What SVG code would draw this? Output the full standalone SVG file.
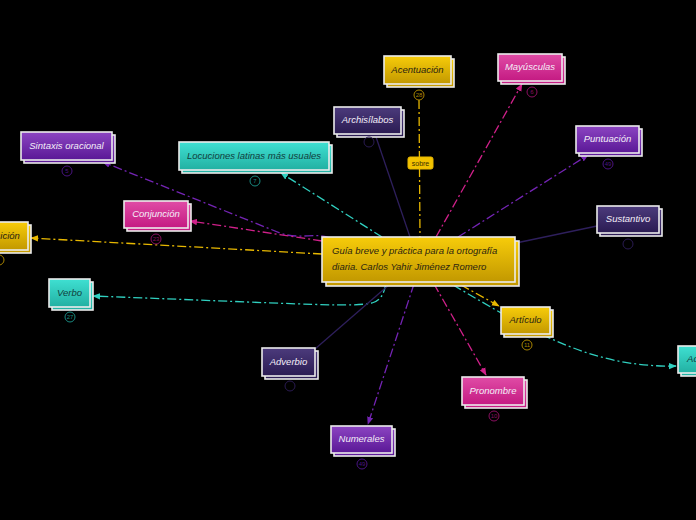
<svg xmlns="http://www.w3.org/2000/svg" width="696" height="520" viewBox="0 0 696 520">
<defs>
<linearGradient id="gY" x1="0" y1="0" x2="0" y2="1"><stop offset="0" stop-color="#f7cc0a"/><stop offset="1" stop-color="#c29800"/></linearGradient>
<linearGradient id="gP" x1="0" y1="0" x2="0" y2="1"><stop offset="0" stop-color="#e04ca6"/><stop offset="1" stop-color="#c41a82"/></linearGradient>
<linearGradient id="gV" x1="0" y1="0" x2="0" y2="1"><stop offset="0" stop-color="#8c45c2"/><stop offset="1" stop-color="#5a1896"/></linearGradient>
<linearGradient id="gD" x1="0" y1="0" x2="0" y2="1"><stop offset="0" stop-color="#4c3b7c"/><stop offset="1" stop-color="#2a1b52"/></linearGradient>
<linearGradient id="gT" x1="0" y1="0" x2="0" y2="1"><stop offset="0" stop-color="#3fe0d2"/><stop offset="1" stop-color="#22b0a2"/></linearGradient>
<marker id="aY" viewBox="0 0 10 10" refX="9" refY="5" markerWidth="6" markerHeight="6" orient="auto"><path d="M0,1 L10,5 L0,9 z" fill="#e8b800"/></marker>
<marker id="aP" viewBox="0 0 10 10" refX="9" refY="5" markerWidth="6" markerHeight="6" orient="auto"><path d="M0,1 L10,5 L0,9 z" fill="#d0208a"/></marker>
<marker id="aV" viewBox="0 0 10 10" refX="9" refY="5" markerWidth="6" markerHeight="6" orient="auto"><path d="M0,1 L10,5 L0,9 z" fill="#7424b4"/></marker>
<marker id="aT" viewBox="0 0 10 10" refX="9" refY="5" markerWidth="6" markerHeight="6" orient="auto"><path d="M0,1 L10,5 L0,9 z" fill="#30d0c0"/></marker>
</defs>
<style>
.box{stroke:#ececec;stroke-width:1.6}
.y{fill:url(#gY)} .p{fill:url(#gP)} .v{fill:url(#gV)} .d{fill:url(#gD)} .t{fill:url(#gT)}
.lbl{font-family:"Liberation Sans","DejaVu Sans",sans-serif;font-style:italic;font-size:9.5px;text-anchor:middle}
.dk{fill:#2a2410} .wh{fill:#f4eef8} .tk{fill:#10403c}
.bd{fill:none;stroke-width:1}
.bt{font-family:"Liberation Sans",sans-serif;font-size:6px;text-anchor:middle}
.c{fill:none;stroke-width:1.3;stroke-dasharray:9,3,2,3}
.cy{stroke:#e8b800} .cp{stroke:#d0208a} .cv{stroke:#7424b4} .ct{stroke:#30d0c0} .cd{stroke:#2e1f5c;stroke-dasharray:none}
</style>
<rect width="696" height="520" fill="#000"/>
<g id="connectors">
<path class="c cy" d="M419,100 L420,237"/>
<path class="c cp" d="M436,237 L522,84" marker-end="url(#aP)"/>
<path class="c cd" d="M375,134 L410,237"/>
<path class="c cv" d="M330,238 C315,232 300,240 280,233 L103,162" marker-end="url(#aV)"/>
<path class="c ct" d="M382,237 L281,173" marker-end="url(#aT)"/>
<path class="c cp" d="M322,241 L190,221" marker-end="url(#aP)"/>
<path class="c cy" d="M322,254 L31,238" marker-end="url(#aY)"/>
<path class="c ct" d="M386,284 C384,292 382,300 372,303 C350,307 330,305 93,296" marker-end="url(#aT)"/>
<path class="c cd" d="M315,349 L390,284"/>
<path class="c cv" d="M414,284 L368,424" marker-end="url(#aV)"/>
<path class="c cp" d="M434,284 L486,375" marker-end="url(#aP)"/>
<path class="c cy" d="M461,285 L499,306" marker-end="url(#aY)"/>
<path class="c ct" d="M453,285 C530,330 590,368 676,366" marker-end="url(#aT)"/>
<path class="c cv" d="M458,237 L588,155" marker-end="url(#aV)"/>
<path class="c cd" d="M516,243 L597,226"/>
<g id="label-sobre">
<rect x="408" y="157" width="25" height="12" rx="2" fill="#f2c200" stroke="#e8b800"/>
<text x="420.5" y="166" style="font-family:'Liberation Sans',sans-serif;font-size:7px;text-anchor:middle" fill="#3a2e00">sobre</text>
</g>
</g>
<g id="central">
<rect class="box y" x="326" y="241" width="193" height="45"/>
<rect class="box y" x="322" y="237" width="193" height="45"/>
<text class="lbl dk" x="332" y="254" style="text-anchor:start">Guía breve y práctica para la ortografía</text>
<text class="lbl dk" x="332" y="270" style="text-anchor:start">diaria. Carlos Yahir Jiménez Romero</text>
</g>
<g id="acentuacion">
<rect class="box y" x="387" y="59" width="67" height="28"/>
<rect class="box y" x="384" y="56" width="67" height="28"/>
<text class="lbl dk" x="417.5" y="73">Acentuación</text>
<circle class="bd" cx="419" cy="95" r="5" stroke="#a88400"/><text class="bt" x="419" y="97" fill="#a88400">28</text>
</g>
<g id="mayusculas">
<rect class="box p" x="501" y="57" width="64" height="27"/>
<rect class="box p" x="498" y="54" width="64" height="27"/>
<text class="lbl wh" x="530" y="70">Mayúsculas</text>
<circle class="bd" cx="532" cy="92" r="5" stroke="#8a1060"/><text class="bt" x="532" y="94" fill="#8a1060">6</text>
</g>
<g id="archisilabos">
<rect class="box d" x="337" y="110" width="67" height="27"/>
<rect class="box d" x="334" y="107" width="67" height="27"/>
<text class="lbl wh" x="367.5" y="123">Archisílabos</text>
<circle class="bd" cx="369" cy="142" r="5" stroke="#2a1b52"/>
</g>
<g id="sintaxis">
<rect class="box v" x="24" y="135" width="91" height="28"/>
<rect class="box v" x="21" y="132" width="91" height="28"/>
<text class="lbl wh" x="66.5" y="149">Sintaxis oracional</text>
<circle class="bd" cx="67" cy="171" r="5" stroke="#4a1480"/><text class="bt" x="67" y="173" fill="#4a1480">5</text>
</g>
<g id="locuciones">
<rect class="box t" x="182" y="145" width="150" height="28"/>
<rect class="box t" x="179" y="142" width="150" height="28"/>
<text class="lbl tk" x="254" y="159">Locuciones latinas más usuales</text>
<circle class="bd" cx="255" cy="181" r="5" stroke="#1a8a80"/><text class="bt" x="255" y="183" fill="#1a8a80">7</text>
</g>
<g id="puntuacion">
<rect class="box v" x="579" y="129" width="63" height="27"/>
<rect class="box v" x="576" y="126" width="63" height="27"/>
<text class="lbl wh" x="607.5" y="142">Puntuación</text>
<circle class="bd" cx="608" cy="164" r="5" stroke="#4a1480"/><text class="bt" x="608" y="166" fill="#4a1480">49</text>
</g>
<g id="sustantivo">
<rect class="box d" x="600" y="209" width="62" height="27"/>
<rect class="box d" x="597" y="206" width="62" height="27"/>
<text class="lbl wh" x="628" y="222">Sustantivo</text>
<circle class="bd" cx="628" cy="244" r="5" stroke="#2a1b52"/>
</g>
<g id="conjuncion">
<rect class="box p" x="127" y="204" width="64" height="27"/>
<rect class="box p" x="124" y="201" width="64" height="27"/>
<text class="lbl wh" x="156" y="217">Conjunción</text>
<circle class="bd" cx="156" cy="239" r="5" stroke="#8a1060"/><text class="bt" x="156" y="241" fill="#8a1060">23</text>
</g>
<g id="preposicion">
<rect class="box y" x="-35" y="225" width="66" height="28"/>
<rect class="box y" x="-38" y="222" width="66" height="28"/>
<text class="lbl dk" x="-5" y="239">Preposición</text>
<circle class="bd" cx="-1" cy="260" r="5" stroke="#a88400"/>
</g>
<g id="verbo">
<rect class="box t" x="52" y="282" width="41" height="28"/>
<rect class="box t" x="49" y="279" width="41" height="28"/>
<text class="lbl tk" x="69.5" y="296">Verbo</text>
<circle class="bd" cx="70" cy="317" r="5" stroke="#1a8a80"/><text class="bt" x="70" y="319" fill="#1a8a80">27</text>
</g>
<g id="adverbio">
<rect class="box d" x="265" y="351" width="53" height="28"/>
<rect class="box d" x="262" y="348" width="53" height="28"/>
<text class="lbl wh" x="288.5" y="365">Adverbio</text>
<circle class="bd" cx="290" cy="386" r="5" stroke="#2a1b52"/>
</g>
<g id="numerales">
<rect class="box v" x="334" y="429" width="61" height="27"/>
<rect class="box v" x="331" y="426" width="61" height="27"/>
<text class="lbl wh" x="361.5" y="442">Numerales</text>
<circle class="bd" cx="362" cy="464" r="5" stroke="#4a1480"/><text class="bt" x="362" y="466" fill="#4a1480">49</text>
</g>
<g id="articulo">
<rect class="box y" x="504" y="310" width="49" height="27"/>
<rect class="box y" x="501" y="307" width="49" height="27"/>
<text class="lbl dk" x="525.5" y="323">Artículo</text>
<circle class="bd" cx="527" cy="345" r="5" stroke="#a88400"/><text class="bt" x="527" y="347" fill="#a88400">11</text>
</g>
<g id="pronombre">
<rect class="box p" x="465" y="380" width="62" height="28"/>
<rect class="box p" x="462" y="377" width="62" height="28"/>
<text class="lbl wh" x="493" y="394">Pronombre</text>
<circle class="bd" cx="494" cy="416" r="5" stroke="#8a1060"/><text class="bt" x="494" y="418" fill="#8a1060">10</text>
</g>
<g id="adjetivo">
<rect class="box t" x="681" y="349" width="52" height="27"/>
<rect class="box t" x="678" y="346" width="52" height="27"/>
<text class="lbl tk" x="704" y="362">Adjetivo</text>
</g>
</svg>
